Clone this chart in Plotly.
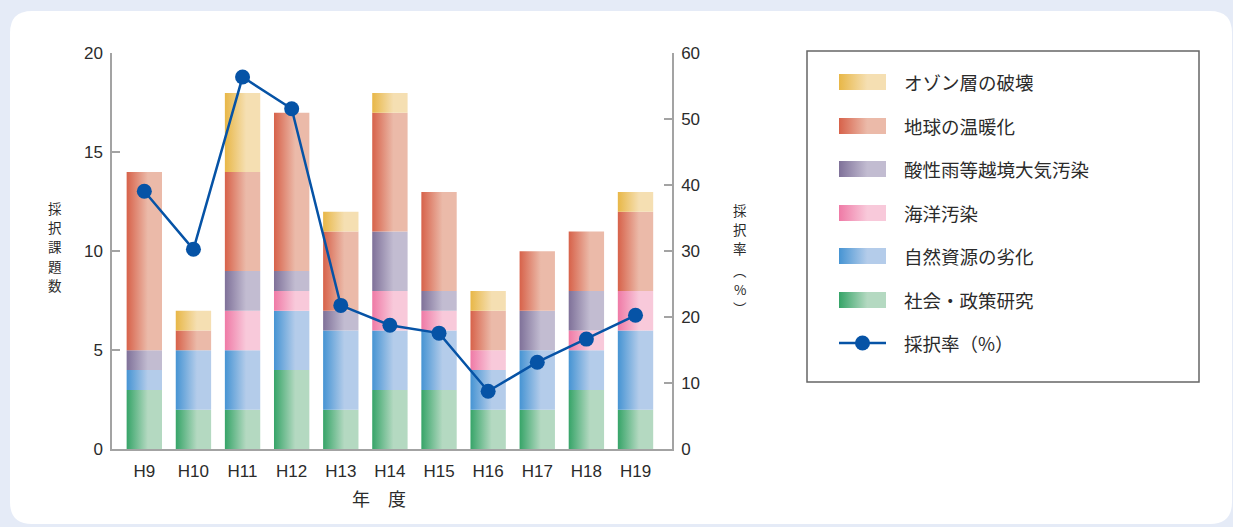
import plotly.graph_objects as go

W, H = 1233, 527

# ---- data -------------------------------------------------------------
years = ["H9", "H10", "H11", "H12", "H13", "H14", "H15", "H16", "H17", "H18", "H19"]

social = [3, 2, 2, 4, 2, 3, 3, 2, 2, 3, 2]        # 社会・政策研究
resources = [1, 3, 3, 3, 4, 3, 3, 2, 3, 2, 4]     # 自然資源の劣化
marine = [0, 0, 2, 1, 0, 2, 1, 1, 0, 1, 2]        # 海洋汚染
acid = [1, 0, 2, 1, 1, 3, 1, 0, 2, 2, 0]          # 酸性雨等越境大気汚染
warming = [9, 1, 5, 8, 4, 6, 5, 2, 3, 3, 4]       # 地球の温暖化
ozone = [0, 1, 4, 0, 1, 1, 0, 1, 0, 0, 1]         # オゾン層の破壊

rate = [39.1, 30.3, 56.4, 51.6, 21.8, 18.8, 17.6, 8.8, 13.2, 16.7, 20.3]  # 採択率（%）

left_ticks = [0, 5, 10, 15, 20]
right_ticks = [0, 10, 20, 30, 40, 50, 60]

# stacking order, bottom to top: (name, values, dark colour, pale colour)
series = [
    ("社会・政策研究", social, "#36A468", "#B4D9C1"),
    ("自然資源の劣化", resources, "#4694D3", "#B4CCEA"),
    ("海洋汚染", marine, "#EF7AA6", "#F8C9DA"),
    ("酸性雨等越境大気汚染", acid, "#7F7199", "#C2BCD1"),
    ("地球の温暖化", warming, "#D7624A", "#EBBAA9"),
    ("オゾン層の破壊", ozone, "#E8B747", "#F5DFB2"),
]
legend_order = list(reversed(series))

# ---- styling constants --------------------------------------------------
JP = "Noto Sans CJK JP"
NUM = "Liberation Sans, Arial, sans-serif"
TXT = "#2b2b2b"
AXIS = "#a3a3a3"
LINE_BLUE = "#0653A6"
BAR_W = 0.72


def px_x(p):
    return p / W


def px_y(p):
    return 1 - p / H


def grad(dark, pale):
    return dict(type="horizontal",
                colorscale=[[0, dark], [0.6, pale], [1, pale]])


fig = go.Figure()

# ---- stacked bars drawn as gradient-filled rectangles -------------------
base = [0] * len(years)
for name, vals, dark, pale in series:
    for i, v in enumerate(vals):
        if v <= 0:
            continue
        x0, x1 = i - BAR_W / 2, i + BAR_W / 2
        y0, y1 = base[i], base[i] + v
        fig.add_trace(go.Scatter(
            x=[x0, x1, x1, x0, x0], y=[y0, y0, y1, y1, y0],
            mode="lines", fill="toself", line=dict(width=0, color="rgba(0,0,0,0)"),
            fillgradient=grad(dark, pale), hoverinfo="skip", showlegend=False,
            xaxis="x", yaxis="y", name=name))
        base[i] += v

# ---- adoption-rate line --------------------------------------------------
fig.add_trace(go.Scatter(
    x=list(range(len(years))), y=rate, mode="lines+markers",
    line=dict(color=LINE_BLUE, width=2.5),
    marker=dict(color=LINE_BLUE, size=15),
    xaxis="x", yaxis="y3", showlegend=False, name="採択率（%）"))

# ---- custom legend (pixel-space axes) -------------------------------------
LEG_L, LEG_R, LEG_T, LEG_B = 807, 1199, 51, 382
row_y = [82, 126, 169, 213, 256, 300, 343]
sw_x0, sw_x1, sw_h = 839, 886, 16
for k, (name, vals, dark, pale) in enumerate(legend_order):
    yc = row_y[k]
    fig.add_trace(go.Scatter(
        x=[sw_x0, sw_x1, sw_x1, sw_x0, sw_x0],
        y=[yc - sw_h / 2, yc - sw_h / 2, yc + sw_h / 2, yc + sw_h / 2, yc - sw_h / 2],
        mode="lines", fill="toself", line=dict(width=0, color="rgba(0,0,0,0)"),
        fillgradient=grad(dark, pale), hoverinfo="skip", showlegend=False,
        xaxis="x2", yaxis="y2"))
fig.add_trace(go.Scatter(
    x=[sw_x0, sw_x1], y=[row_y[6], row_y[6]], mode="lines",
    line=dict(color=LINE_BLUE, width=2.5), hoverinfo="skip", showlegend=False,
    xaxis="x2", yaxis="y2"))
fig.add_trace(go.Scatter(
    x=[(sw_x0 + sw_x1) / 2], y=[row_y[6]], mode="markers",
    marker=dict(color=LINE_BLUE, size=15), hoverinfo="skip", showlegend=False,
    xaxis="x2", yaxis="y2"))

legend_labels = [s[0] for s in legend_order] + ["採択率（%）"]
annotations = []
for k, lab in enumerate(legend_labels):
    annotations.append(dict(
        x=px_x(902), y=px_y(row_y[k]), xref="paper", yref="paper",
        text=lab, showarrow=False, xanchor="left", yanchor="middle",
        font=dict(family=JP, size=18.5, color=TXT)))


def stacked_chars(chars, x, ys, size):
    # one annotation per character so the column reads top to bottom
    for ch, yy in zip(chars, ys):
        annotations.append(dict(
            x=px_x(x), y=px_y(yy), xref="paper", yref="paper",
            text=ch, showarrow=False, xanchor="center", yanchor="middle",
            font=dict(family=JP, size=size, color=TXT)))


# axis titles
stacked_chars(list("採択課題数"), 55, [208, 227.2, 246.4, 265.6, 284.8], 13.5)
stacked_chars(["採", "択", "率", "︵", "%", "︶"], 740,
              [210, 229.2, 248.4, 270, 289.2, 308.4], 13.5)
stacked_chars(["年"], 361, [498], 18)
stacked_chars(["度"], 397, [498], 18)

# ---- background card and legend frame -----------------------------------
r = 22
L, T, R, B = 10, 11, 1232, 524
card = (f"M {px_x(L + r)},{px_y(T)} L {px_x(R - r)},{px_y(T)} "
        f"Q {px_x(R)},{px_y(T)} {px_x(R)},{px_y(T + r)} "
        f"L {px_x(R)},{px_y(B - r)} Q {px_x(R)},{px_y(B)} {px_x(R - r)},{px_y(B)} "
        f"L {px_x(L + r)},{px_y(B)} Q {px_x(L)},{px_y(B)} {px_x(L)},{px_y(B - r)} "
        f"L {px_x(L)},{px_y(T + r)} Q {px_x(L)},{px_y(T)} {px_x(L + r)},{px_y(T)} Z")
shapes = [
    dict(type="path", path=card, xref="paper", yref="paper",
         fillcolor="white", line=dict(width=0), layer="below"),
    dict(type="rect", xref="paper", yref="paper",
         x0=px_x(LEG_L), x1=px_x(LEG_R), y0=px_y(LEG_B), y1=px_y(LEG_T),
         line=dict(color="#666666", width=1.5), fillcolor="rgba(0,0,0,0)"),
]

PLOT_L, PLOT_R, PLOT_T, PLOT_B = 112, 672, 53.3, 449.3
tick_font = dict(family=NUM, size=17, color=TXT)

fig.update_layout(
    width=W, height=H, autosize=False,
    margin=dict(l=0, r=0, t=0, b=0, pad=0, autoexpand=False),
    paper_bgcolor="#E5EBF7", plot_bgcolor="rgba(0,0,0,0)",
    showlegend=False,
    shapes=shapes, annotations=annotations,
    xaxis=dict(
        domain=[px_x(PLOT_L), px_x(PLOT_R)], range=[-0.658, 10.743],
        tickvals=list(range(len(years))), ticktext=years,
        ticks="", showline=True, linecolor=AXIS, linewidth=1.5,
        showgrid=False, zeroline=False, fixedrange=True, automargin=False,
        tickfont=tick_font, ticklabelstandoff=6),
    yaxis=dict(
        domain=[px_y(PLOT_B), px_y(PLOT_T)], range=[0, 20],
        tickvals=left_ticks,
        ticks="inside", ticklen=8, tickcolor=AXIS, tickwidth=1.5,
        showline=True, linecolor=AXIS, linewidth=1.5,
        showgrid=False, zeroline=False, fixedrange=True, automargin=False,
        tickfont=tick_font, ticklabelstandoff=4),
    yaxis3=dict(
        overlaying="y", side="right", anchor="x", range=[0, 60],
        tickvals=right_ticks,
        ticks="inside", ticklen=8, tickcolor=AXIS, tickwidth=1.5,
        showline=True, linecolor=AXIS, linewidth=1.5,
        showgrid=False, zeroline=False, fixedrange=True, automargin=False,
        tickfont=tick_font, ticklabelstandoff=4),
    xaxis2=dict(domain=[px_x(LEG_L), px_x(LEG_R)], range=[LEG_L, LEG_R],
                visible=False, fixedrange=True),
    yaxis2=dict(domain=[px_y(LEG_B), px_y(LEG_T)], range=[LEG_B, LEG_T],
                anchor="x2", visible=False, fixedrange=True),
)

fig.write_html("out.html")
